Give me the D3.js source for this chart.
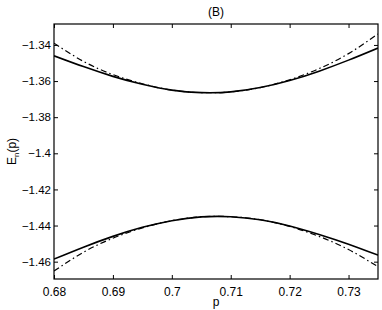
<!DOCTYPE html>
<html>
<head>
<meta charset="utf-8">
<script src="https://cdn.jsdelivr.net/npm/d3@7"></script>
<style>
  body { margin: 0; background: #fff; }
  svg { display: block; font-family: "Liberation Sans", Arial, Helvetica, sans-serif; }
</style>
</head>
<body>
<div id="chart"></div>
<script>
const pValues = [0.68, 0.685, 0.69, 0.695, 0.70, 0.705, 0.71, 0.715, 0.72, 0.725, 0.73, 0.735];

// solid lines (upper and lower branch)
const solidUpper = [-1.3460, -1.3520, -1.3574, -1.3618, -1.3650, -1.3664, -1.3660, -1.3636, -1.3597, -1.3545, -1.3484, -1.3417];
const solidLower = [-1.4586, -1.4520, -1.4460, -1.4410, -1.4373, -1.4352, -1.4351, -1.4368, -1.4402, -1.4449, -1.4503, -1.4564];

// dash-dot lines (upper and lower branch)
const dashUpper = [-1.3390, -1.3491, -1.3564, -1.3615, -1.3650, -1.3664, -1.3660, -1.3636, -1.3593, -1.3531, -1.3448, -1.3339];
const dashLower = [-1.4652, -1.4548, -1.4470, -1.4413, -1.4373, -1.4352, -1.4351, -1.4368, -1.4405, -1.4460, -1.4533, -1.4628];

const xTicks = [0.68, 0.69, 0.70, 0.71, 0.72, 0.73];
const yTicks = [-1.34, -1.36, -1.38, -1.40, -1.42, -1.44, -1.46];

const width = 382, height = 310;
const margin = { top: 24, right: 4, bottom: 31, left: 54 };
const innerW = width - margin.left - margin.right;
const innerH = height - margin.top - margin.bottom;

const svg = d3.select("#chart").append("svg")
    .attr("width", width)
    .attr("height", height);

const g = svg.append("g")
    .attr("transform", `translate(${margin.left},${margin.top})`);

const x = d3.scaleLinear().domain([0.68, 0.735]).range([0, innerW]);
const y = d3.scaleLinear().domain([-1.4696, -1.3284]).range([innerH, 0]);

const fmt = v => {
    let s = d3.format("")(+v.toFixed(2));
    return s.replace("-", "\u2212");
};

// clip so lines stay inside the box
svg.append("defs").append("clipPath").attr("id", "clip")
    .append("rect").attr("width", innerW).attr("height", innerH);

// curves
const line = d3.line()
    .x(d => x(d[0]))
    .y(d => y(d[1]))
    .curve(d3.curveNatural);

const series = [
    { values: dashUpper, dash: "6,3,1.5,3" },
    { values: dashLower, dash: "6,3,1.5,3" },
    { values: solidUpper, dash: null },
    { values: solidLower, dash: null }
];

const curves = g.append("g").attr("clip-path", "url(#clip)");
series.forEach(s => {
    curves.append("path")
        .attr("d", line(pValues.map((p, i) => [p, s.values[i]])))
        .attr("fill", "none")
        .attr("stroke", "#000")
        .attr("stroke-width", s.dash ? 1.2 : 1.6)
        .attr("stroke-dasharray", s.dash);
});

// axes: ticks on all four sides, pointing inwards
const tickLen = 4;
const styleAxis = size => sel => {
    sel.select(".domain").remove();
    sel.selectAll("line").attr("stroke", "#000");
    sel.selectAll("text").attr("font-size", size).attr("fill", "#000");
};

g.append("g")
    .attr("transform", `translate(0,${innerH})`)
    .call(d3.axisBottom(x).tickValues(xTicks).tickSize(-tickLen).tickPadding(8).tickFormat(fmt))
    .call(styleAxis(12));

g.append("g")
    .call(d3.axisTop(x).tickValues(xTicks).tickSize(-tickLen).tickFormat(""))
    .call(styleAxis(12));

g.append("g")
    .call(d3.axisLeft(y).tickValues(yTicks).tickSize(-tickLen).tickPadding(3).tickFormat(fmt))
    .call(styleAxis(11.5));

g.append("g")
    .attr("transform", `translate(${innerW},0)`)
    .call(d3.axisRight(y).tickValues(yTicks).tickSize(-tickLen).tickFormat(""))
    .call(styleAxis(11.5));

// box
g.append("rect")
    .attr("x", 0).attr("y", 0)
    .attr("width", innerW).attr("height", innerH)
    .attr("fill", "none")
    .attr("stroke", "#000")
    .attr("stroke-width", 1.2);

// title
svg.append("text")
    .attr("x", margin.left + innerW / 2)
    .attr("y", 16)
    .attr("text-anchor", "middle")
    .attr("font-size", 12)
    .text("(B)");

// x label
svg.append("text")
    .attr("x", margin.left + innerW / 2)
    .attr("y", 306)
    .attr("text-anchor", "middle")
    .attr("font-size", 12)
    .text("p");

// y label
const yl = svg.append("text")
    .attr("transform", `translate(16,${margin.top + innerH / 2}) rotate(-90)`)
    .attr("text-anchor", "middle")
    .attr("font-size", 12);
yl.append("tspan").text("E");
yl.append("tspan").attr("font-size", 8).attr("dy", 3).text("n");
yl.append("tspan").attr("dy", -3).text("(p)");
</script>
</body>
</html>
